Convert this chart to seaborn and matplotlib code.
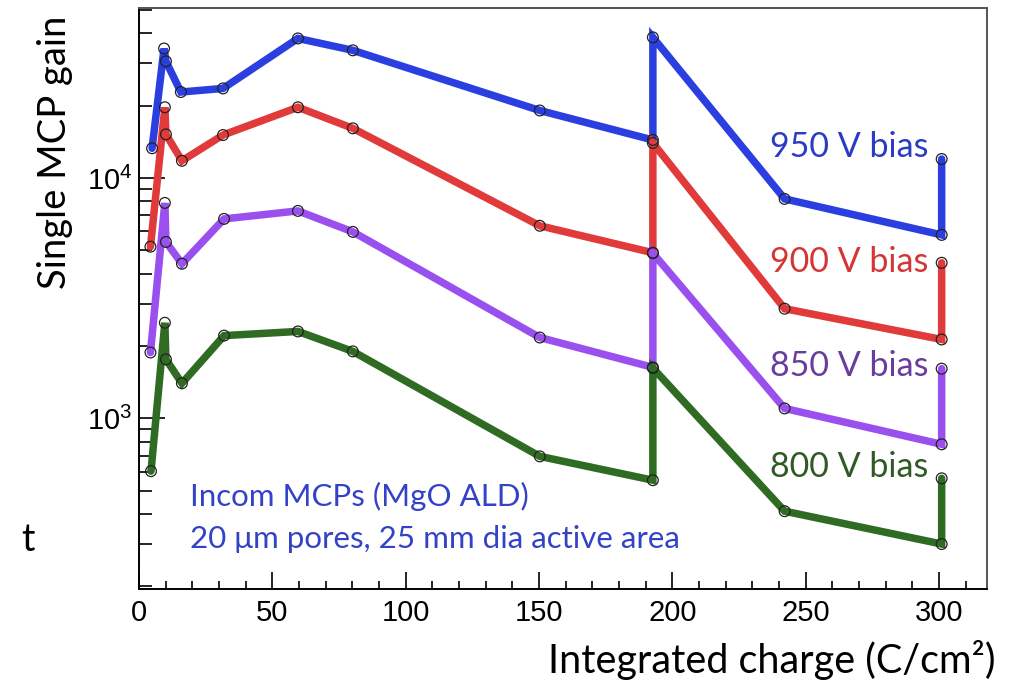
import numpy as np
import pandas as pd
import matplotlib
matplotlib.use("Agg")
import matplotlib.pyplot as plt
import seaborn as sns

# ---------------- data ----------------
x_950 = [4.9, 9.4, 10.1, 15.7, 31.5, 59.6, 80.2, 150.3, 192.7, 192.7, 242.1, 301.0, 301.0]
y_950 = [13300, 34600, 30600, 22800, 23600, 38100, 34000, 19100, 14400, 38500, 8190, 5800, 12000]

x_900 = [4.3, 9.7, 10.1, 16.1, 31.5, 59.6, 80.2, 150.3, 192.7, 192.7, 242.1, 301.0, 301.0]
y_900 = [5180, 19700, 15200, 11800, 15100, 19700, 16100, 6330, 4890, 14000, 2860, 2130, 4440]

x_850 = [4.3, 9.7, 10.1, 16.1, 31.9, 59.6, 80.2, 150.3, 192.7, 192.7, 242.1, 301.0, 301.0]
y_850 = [1880, 7880, 5420, 4400, 6760, 7300, 5970, 2170, 1630, 4870, 1100, 780, 1610]

x_800 = [4.5, 9.7, 10.1, 16.1, 31.9, 59.6, 80.2, 150.3, 192.7, 192.7, 242.1, 301.0, 301.0]
y_800 = [603, 2500, 1760, 1400, 2210, 2300, 1900, 695, 553, 1620, 411, 300, 563]

series_names = ["950 V bias", "900 V bias", "850 V bias", "800 V bias"]
line_colors = ["#2b3fe0", "#e03a3a", "#9a50ee", "#2f6b22"]
text_colors = ["#2a3bc4", "#d43535", "#6a3c9e", "#2f5a25"]

frames = []
for name, xs, ys in zip(series_names, [x_950, x_900, x_850, x_800],
                        [y_950, y_900, y_850, y_800]):
    frames.append(pd.DataFrame({"charge": xs, "gain": ys, "bias": name}))
df = pd.concat(frames, ignore_index=True)

# ---------------- style ----------------
sns.set_theme(style="white")
plt.rcParams["font.family"] = ["Liberation Sans", "DejaVu Sans"]
plt.rcParams["mathtext.fontset"] = "custom"
plt.rcParams["mathtext.rm"] = "Liberation Sans"
plt.rcParams["mathtext.it"] = "Liberation Sans:italic"
plt.rcParams["mathtext.bf"] = "Liberation Sans:bold"

fig = plt.figure(figsize=(10.17, 6.82), dpi=100)
ax = fig.add_axes([139 / 1017, 1 - 589 / 682, (987 - 139) / 1017, (589 - 8) / 682])

palette = dict(zip(series_names, line_colors))
sns.lineplot(data=df, x="charge", y="gain", hue="bias", palette=palette,
             sort=False, estimator=None, units="bias", ax=ax, legend=False,
             linewidth=5.4, solid_joinstyle="miter", zorder=2)
sns.scatterplot(data=df, x="charge", y="gain", ax=ax, legend=False,
                marker="o", s=60, facecolor="none", edgecolor="#222222",
                linewidth=0.9, zorder=3)

ax.set_yscale("log")
ax.set_xlim(0, 318)
ax.set_ylim(195, 51000)

# ticks
ax.set_xticks([0, 50, 100, 150, 200, 250, 300])
ax.set_xticks(np.arange(10, 318, 10), minor=True)
ax.set_yticks([1e3, 1e4])
ax.set_yticklabels([r"$10^3$", r"$10^4$"])
ax.yaxis.set_minor_locator(matplotlib.ticker.LogLocator(base=10, subs=np.arange(2, 10)))
ax.yaxis.set_minor_formatter(matplotlib.ticker.NullFormatter())

ax.tick_params(axis="both", which="both", direction="in", colors="black",
               labelsize=21, width=1.2, bottom=True, left=True, top=False, right=False)
ax.tick_params(axis="x", which="major", length=12.5, pad=7)
ax.tick_params(axis="x", which="minor", length=6)
ax.tick_params(axis="y", which="major", length=19, pad=5)
ax.tick_params(axis="y", which="minor", length=9.5)

for side in ["left", "bottom"]:
    ax.spines[side].set_color("black")
    ax.spines[side].set_linewidth(1.4)
for side in ["top", "right"]:
    ax.spines[side].set_color("#555555")
    ax.spines[side].set_linewidth(1.4)

ax.set_xlabel("")
ax.set_ylabel("")

# series labels
label_x = 236.5
label_y = [13450, 4480, 1645, 627]
for name, yv, c in zip(series_names, label_y, text_colors):
    ax.text(label_x, yv, name, color=c, fontsize=24.5, family=["Lato", "DejaVu Sans"],
            ha="left", va="center", zorder=4)

ax.text(19.1, 474, "Incom MCPs (MgO ALD)", color="#3342c6", fontsize=22.5,
        family=["Lato", "DejaVu Sans"], ha="left", va="center")
ax.text(19.1, 315, "20 \u03bcm pores, 25 mm dia active area", color="#3342c6",
        fontsize=22.5, family=["Lato", "DejaVu Sans"], ha="left", va="center")

# axis titles
fig.text(55 / 1017, 1 - 152 / 682, "Single MCP gain", rotation=90, fontsize=27.5,
         family=["Lato", "DejaVu Sans"], ha="center", va="center", color="black")
fig.text(995 / 1017, 1 - 660 / 682, "Integrated charge (C/cm\u00b2)", fontsize=28.5,
         family=["Lato", "DejaVu Sans"], ha="right", va="center", color="black")
fig.text(28 / 1017, 1 - 540 / 682, "t", fontsize=27,
         family=["Lato", "DejaVu Sans"], ha="center", va="center", color="black")

fig.savefig("out.png", dpi=100, facecolor="white")
